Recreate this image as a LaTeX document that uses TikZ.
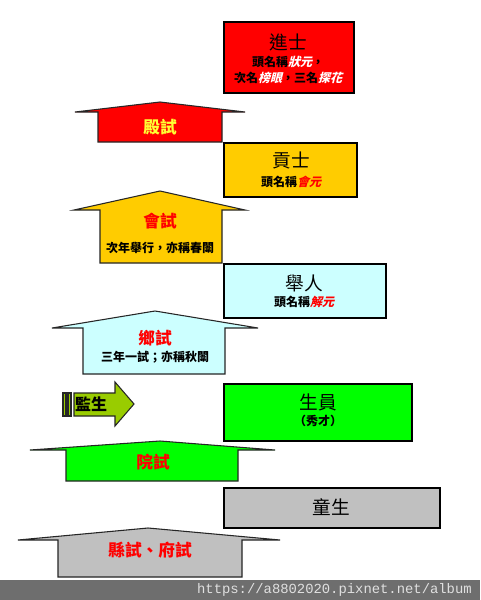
\documentclass[tikz,border=0pt]{standalone}
\usepackage{fontspec}
\setmainfont{Liberation Sans}
\setmonofont{Liberation Mono}
\newfontfamily\cjk{Noto Sans CJK TC}
\newfontfamily\cjksl[FakeSlant=0.25]{Noto Sans CJK TC}
\usetikzlibrary{fit}
\definecolor{cRed}{HTML}{FF0000}
\definecolor{cGold}{HTML}{FFCC00}
\definecolor{cCyan}{HTML}{CCFFFF}
\definecolor{cGreen}{HTML}{00FF00}
\definecolor{cGray}{HTML}{C0C0C0}
\definecolor{cLime}{HTML}{99CC00}
\definecolor{cBar}{HTML}{6E6E6E}
\definecolor{cUrl}{HTML}{E0E0E0}
\definecolor{cYel}{HTML}{FFFF33}
\begin{document}
\begin{tikzpicture}[x=0.75pt,y=-0.75pt,
  box/.style={draw=black, line width=1.8pt, inner sep=0pt},
  arr/.style={draw=black!85, line width=0.8pt, line join=miter},
  title/.style={font=\cjk\fontsize{14}{16}\selectfont, inner sep=0pt},
  sub/.style={font=\cjk\bfseries\fontsize{9}{11}\selectfont, inner sep=0pt},
  lab/.style={font=\cjk\bfseries\fontsize{12.5}{14}\selectfont, inner sep=0pt}]
\useasboundingbox (0,0) rectangle (480,600);
\fill[white] (0,0) rectangle (480,600);

% ---- boxes ----
\node[box, fill=cRed, fit={(224,22) (354,93)}] (jinshi) {};
\node[title] (jinshiT) at (288,42) {進士};
\node[sub] (jinshiA) at (288,62) {頭名稱{\color{white}\cjksl\bfseries 狀元}，};
\node[sub] (jinshiB) at (288,78) {次名{\color{white}\cjksl\bfseries 榜眼}，三名{\color{white}\cjksl\bfseries 探花}};

\node[box, fill=cGold, fit={(224,143) (357,197)}] (gongshi) {};
\node[title] (gongshiT) at (291,160) {貢士};
\node[sub] (gongshiA) at (291,182) {頭名稱{\color{red}\cjksl\bfseries 會元}};

\node[box, fill=cCyan, fit={(224,264) (386,318)}] (juren) {};
\node[title] (jurenT) at (304,283) {舉人};
\node[sub] (jurenA) at (304,302) {頭名稱{\color{red}\cjksl\bfseries 解元}};

\node[box, fill=cGreen, fit={(224,384) (412,441)}] (shengyuan) {};
\node[title] (shengyuanT) at (318,402) {生員};
\node[sub] (shengyuanA) at (318,421) {（秀才）};

\node[box, fill=cGray, fit={(224,488) (440,528)}] (tongsheng) {};
\node[title] (tongshengT) at (331,507) {童生};

% ---- up arrows ----
\draw[arr, fill=cRed] (75,112) -- (160,102) -- (245,112) -- (222,112) -- (222,142) -- (98,142) -- (98,112) -- cycle;
\node[lab, text=cYel] (dianshi) at (160,127) {殿試};

\draw[arr, fill=cGold] (74,210) -- (160,191) -- (245,210) -- (222,210) -- (222,263) -- (100,263) -- (100,210) -- cycle;
\node[lab, text=red] (huishi) at (160,221) {會試};
\node[sub] (huishiA) at (160,248) {次年舉行，亦稱春闈};

\draw[arr, fill=cCyan] (52,328) -- (155,311) -- (258,328) -- (225,328) -- (225,374) -- (83,374) -- (83,328) -- cycle;
\node[lab, text=red] (xiangshi) at (155,338) {鄉試};
\node[sub] (xiangshiA) at (155,357) {三年一試；亦稱秋闈};

\draw[arr, fill=cGreen] (30,450) -- (160,441) -- (275,450) -- (238,450) -- (238,481) -- (66,481) -- (66,450) -- cycle;
\node[lab, text=red] (yuanshi) at (153,462) {院試};

\draw[arr, fill=cGray] (18,540) -- (148,528) -- (280,540) -- (242,540) -- (242,577) -- (58,577) -- (58,540) -- cycle;
\node[lab, text=red] (xianshi) at (150,550) {縣試、府試};

% ---- 監生 arrow ----
\draw[arr, fill=cLime] (63,393) rectangle (66,416);
\draw[arr, fill=cLime] (68,393) rectangle (71,416);
\draw[arr, fill=cLime] (74,393) -- (115,393) -- (115,382) -- (134,404) -- (115,426) -- (115,416) -- (74,416) -- cycle;
\node[font=\cjk\bfseries\fontsize{12}{14}\selectfont, inner sep=0pt] (jiansheng) at (91,404) {監生};

% ---- bottom bar ----
\fill[cBar] (0,580) rectangle (480,600);
\node[font=\ttfamily\fontsize{10.4}{12}\selectfont, text=cUrl, anchor=east, inner sep=0pt] (url) at (472,590) {https://a8802020.pixnet.net/album};
\end{tikzpicture}
\end{document}
